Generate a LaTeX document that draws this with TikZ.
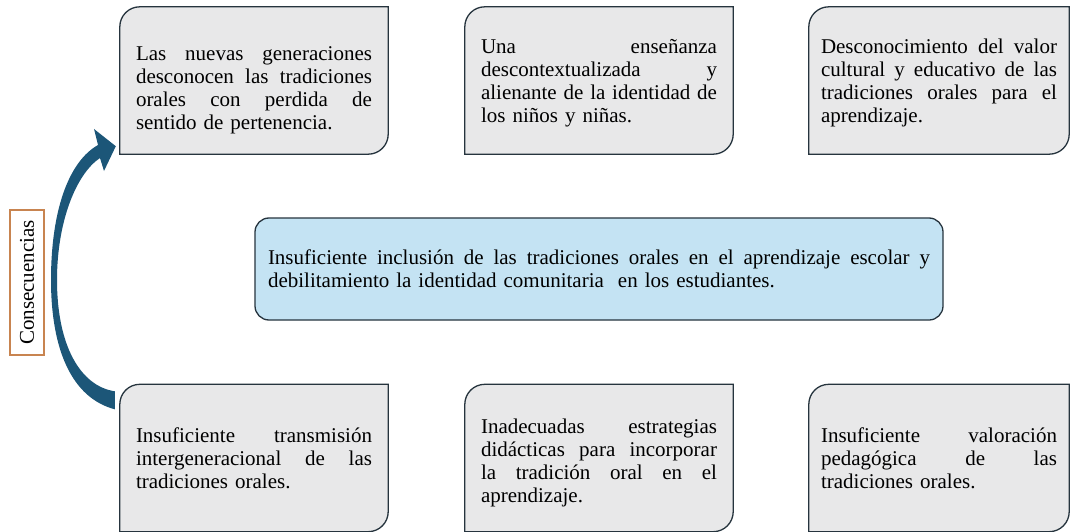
\documentclass[tikz,border=0pt]{standalone}
\usepackage{fontspec}
\setmainfont{Liberation Serif}
\usetikzlibrary{backgrounds}
\definecolor{boxgray}{RGB}{232,232,233}
\definecolor{boxline}{RGB}{38,52,62}
\definecolor{mainblue}{RGB}{196,227,243}
\definecolor{arrowblue}{RGB}{28,86,120}
\definecolor{labelorange}{RGB}{200,132,80}
% a line spread to the full width, as in a justified paragraph
\newcommand{\fl}[1]{\makebox[\hsize][s]{\spaceskip=0pt\xspaceskip=0pt\relax #1}}

\begin{document}
\begin{tikzpicture}[x=1pt,y=-1pt,
  every node/.style={font=\fontsize{21}{23}\selectfont},
  cbox/.style={minimum width=268pt,minimum height=147pt,text width=236pt,align=left,inner sep=0pt},
  shapebox/.style={fill=boxgray,draw=boxline,line width=1.3pt},
  mainbox/.style={draw=boxline,fill=mainblue,line width=1.3pt,rounded corners=14pt,
    minimum width=688pt,minimum height=102pt,text width=662pt,align=left,inner sep=0pt},
  lbl/.style={draw=labelorange,line width=1.4pt,minimum width=145pt,minimum height=34pt,inner sep=0pt}]
  \useasboundingbox (0,0) rectangle (1070,532);

  \node[cbox] (b1) at (254,80.5) {\rule{0pt}{34pt}\fl{Las nuevas generaciones}\\ \fl{desconocen las tradiciones}\\ \fl{orales con perdida de}\\ sentido de pertenencia.};
  \node[cbox] (b2) at (599,80.5) {\rule{0pt}{20pt}\fl{Una enseñanza}\\ \fl{descontextualizada y}\\ \fl{alienante de la identidad de}\\ los niños y niñas.};
  \node[cbox,minimum width=260pt] (b3) at (939,80.5) {\rule{0pt}{20pt}\fl{Desconocimiento del valor}\\ \fl{cultural y educativo de las}\\ \fl{tradiciones orales para el}\\ aprendizaje.};
  \node[cbox] (b4) at (254,458) {\fl{Insuficiente transmisión}\\ \fl{intergeneracional de las}\\ tradiciones orales.};
  \node[cbox] (b5) at (599,458) {\rule{0pt}{24pt}\fl{Inadecuadas estrategias}\\ \fl{didácticas para incorporar}\\ \fl{la tradición oral en el}\\ aprendizaje.};
  \node[cbox,minimum width=260pt] (b6) at (939,458) {\fl{Insuficiente valoración}\\ \fl{pedagógica de las}\\ tradiciones orales.};

  \node[mainbox] (m) at (599,269) {\fl{Insuficiente inclusión de las tradiciones orales en el aprendizaje escolar y}\\ debilitamiento la identidad comunitaria\ \ en los estudiantes.};

  \node[lbl,rotate=90] (c) at (27,282.5) {Consecuencias};

  \begin{scope}[on background layer]
    \fill[white] (0,0) rectangle (1070,532);
    \foreach \n in {b1,b2,b3,b4,b5,b6}
      \filldraw[shapebox] ([yshift=-20pt]\n.north west) arc[start angle=180,end angle=270,radius=20]
        -- (\n.north east) -- ([yshift=20pt]\n.south east) arc[start angle=0,end angle=90,radius=20]
        -- (\n.south west) -- cycle;
  \end{scope}

  % curved arrow from the lower box up to the upper one
  \fill[arrowblue] ([shift={(-5,25)}]b4.north west) .. controls (72,398) and (51,350) .. (51,280)
    .. controls (51,212) and (68,162) .. (98,145) -- (94,129) -- ([shift={(-4,-8)}]b1.south west)
    -- (104,171) -- (100,158) .. controls (76,174) and (57,222) .. (57,280)
    .. controls (57,345) and (80,386) .. ([shift={(-5,7)}]b4.north west) -- cycle;

\end{tikzpicture}
\end{document}
